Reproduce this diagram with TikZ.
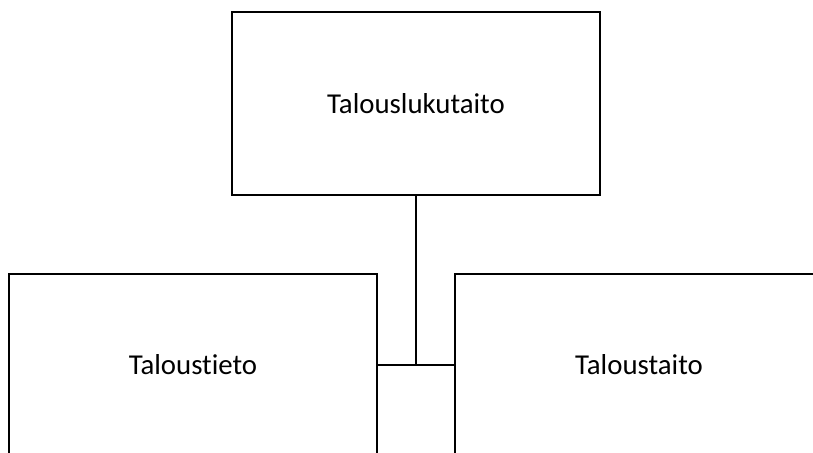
\documentclass[tikz,border=0pt]{standalone}
\usepackage{fontspec}
\setmainfont[Ligatures=NoCommon]{Carlito}
\begin{document}
\begin{tikzpicture}[x=1pt, y=-1pt,
    every node/.style={font=\fontsize{28.8}{34}\selectfont},
    box/.style={draw, rectangle, line width=2pt, minimum width=368pt, minimum height=183pt, inner sep=0pt}]
    \useasboundingbox (0,0) rectangle (813,452);
    \clip (0,0) rectangle (813,452);
    % Nodes
    \node (literacy) [box] at (416,103.5) {Talouslukutaito};
    \node (knowledge) [box] at (193,365) {Taloustieto};
    \node (skill) [box] at (639,365) {Taloustaito};
    % Lines
    \draw[line width=1.2pt] (knowledge.east) -- (skill.west);
    \draw[line width=2pt] (literacy.south) -- (literacy.south |- knowledge.east);
  \end{tikzpicture}
\end{document}
